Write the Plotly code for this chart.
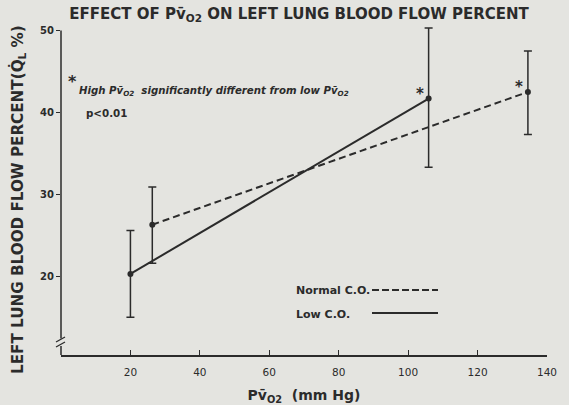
import plotly.graph_objects as go

# Data
low_x = [20, 105.9]
low_y = [20.3, 41.7]
low_err_plus = [5.3, 8.6]
low_err_minus = [5.3, 8.4]

norm_x = [26.3, 134.5]
norm_y = [26.3, 42.5]
norm_err_plus = [4.6, 5.0]
norm_err_minus = [4.7, 5.2]

x_ticks = [20, 40, 60, 80, 100, 120, 140]
y_ticks = [20, 30, 40, 50]

INK = "#2b2b2b"
BG = "#e4e4e0"
FONT = "DejaVu Sans"

W, H = 569, 405
L, R, T, B = 61, 22, 26, 50
PW, PH = W - L - R, H - T - B
Y_MIN, Y_MAX = 10.4, 50.55


def px(x):
    """screen x -> paper x"""
    return (x - L) / PW


def py(y):
    """screen y -> paper y"""
    return (H - B - y) / PH


fig = go.Figure()

fig.add_trace(go.Scatter(
    x=norm_x, y=norm_y, mode="lines+markers", name="Normal C.O.",
    line=dict(color=INK, width=2, dash="7px,4px"),
    marker=dict(color=INK, size=6),
    error_y=dict(type="data", symmetric=False, array=norm_err_plus,
                 arrayminus=norm_err_minus, color=INK, thickness=1.5, width=4),
    showlegend=False,
))
fig.add_trace(go.Scatter(
    x=low_x, y=low_y, mode="lines+markers", name="Low C.O.",
    line=dict(color=INK, width=2),
    marker=dict(color=INK, size=6),
    error_y=dict(type="data", symmetric=False, array=low_err_plus,
                 arrayminus=low_err_minus, color=INK, thickness=1.5, width=4),
    showlegend=False,
))

annotations = []
# significance asterisks at the high-PvO2 points
for xv, yv in [(low_x[1], low_y[1]), (norm_x[1], norm_y[1])]:
    annotations.append(dict(x=xv, y=yv, xref="x", yref="y", text="<b>*</b>",
                            showarrow=False, xshift=-9, yshift=5,
                            font=dict(family=FONT, size=15, color=INK)))

# footnote
annotations.append(dict(x=px(66), y=py(81), xref="paper", yref="paper", text="<b>*</b>",
                        showarrow=False, xanchor="left", yanchor="middle",
                        font=dict(family=FONT, size=16, color=INK)))
annotations.append(dict(x=px(77), y=py(91), xref="paper", yref="paper",
                        text="<i>High Pv\u0304<sub>O2</sub>  significantly different from low Pv\u0304<sub>O2</sub></i>",
                        showarrow=False, xanchor="left", yanchor="middle",
                        font=dict(family=FONT, size=10.2, color=INK, weight="bold")))
annotations.append(dict(x=px(84), y=py(113), xref="paper", yref="paper",
                        text="p<0.01", showarrow=False, xanchor="left", yanchor="middle",
                        font=dict(family=FONT, size=10.3, color=INK, weight="bold")))

# legend text
annotations.append(dict(x=px(294), y=py(290), xref="paper", yref="paper",
                        text="Normal C.O.", showarrow=False, xanchor="left", yanchor="middle",
                        font=dict(family=FONT, size=11, color=INK, weight="bold")))
annotations.append(dict(x=px(294), y=py(314), xref="paper", yref="paper",
                        text="Low C.O.", showarrow=False, xanchor="left", yanchor="middle",
                        font=dict(family=FONT, size=11, color=INK, weight="bold")))

# y-axis title
annotations.append(dict(x=px(18), y=py(200), xref="paper", yref="paper",
                        text="LEFT LUNG BLOOD FLOW PERCENT(Q\u0307<sub>L</sub> %)",
                        textangle=-90, showarrow=False, xanchor="center", yanchor="middle",
                        font=dict(family=FONT, size=15.2, color=INK, weight="bold")))

shapes = [
    # legend samples
    dict(type="line", xref="paper", yref="paper", x0=px(372), x1=px(438),
         y0=py(290), y1=py(290), line=dict(color=INK, width=2, dash="7px,3px")),
    dict(type="line", xref="paper", yref="paper", x0=px(372), x1=px(438),
         y0=py(313), y1=py(313), line=dict(color=INK, width=2)),
    # y axis line (from the 50 tick down), with a break
    dict(type="line", xref="paper", yref="y", x0=0, x1=0, y0=50, y1=12.4,
         line=dict(color=INK, width=1.5), layer="above"),
    dict(type="line", xref="paper", yref="y", x0=0, x1=0, y0=11.5, y1=Y_MIN,
         line=dict(color=INK, width=1.5), layer="above"),
    dict(type="line", xref="paper", yref="paper", x0=px(56), x1=px(65),
         y0=py(342), y1=py(337), line=dict(color=INK, width=1.3), layer="above"),
    dict(type="line", xref="paper", yref="paper", x0=px(56), x1=px(65),
         y0=py(347), y1=py(342), line=dict(color=INK, width=1.3), layer="above"),
]

fig.update_layout(
    width=W, height=H,
    margin=dict(l=L, r=R, t=T, b=B),
    paper_bgcolor=BG, plot_bgcolor=BG,
    font=dict(family=FONT, color=INK),
    hovermode=False,
    title=dict(text="EFFECT OF Pv\u0304<sub>O2</sub> ON LEFT LUNG BLOOD FLOW PERCENT",
               x=299 / W, xanchor="center", y=1 - 14 / H, yanchor="middle",
               font=dict(family=FONT, size=15, color=INK, weight="bold")),
    annotations=annotations,
    shapes=shapes,
)

fig.update_xaxes(
    range=[0, 140], tickvals=x_ticks, ticktext=[str(v) for v in x_ticks],
    showgrid=False, zeroline=False, showline=True, linecolor=INK, linewidth=1.5,
    ticks="inside", ticklen=5, tickwidth=1.3, tickcolor=INK,
    tickfont=dict(family=FONT, size=10.5, color=INK),
    ticklabelstandoff=7,
    automargin=False,
    title=dict(text="Pv\u0304<sub>O2</sub>  (mm Hg)", standoff=16,
               font=dict(family=FONT, size=14, color=INK, weight="bold")),
)
fig.update_yaxes(
    range=[Y_MIN, Y_MAX], tickvals=y_ticks, ticktext=[str(v) for v in y_ticks],
    showgrid=False, zeroline=False, showline=False,
    ticks="outside", ticklen=4, tickwidth=1.3, tickcolor=INK,
    tickfont=dict(family=FONT, size=10, color=INK, weight="bold"),
    automargin=False,
)

# remove the browser's default 8px page margin so the figure fills the window
fig.write_html("out.html", config={"displayModeBar": False},
               post_script="document.body.style.margin='0';")
